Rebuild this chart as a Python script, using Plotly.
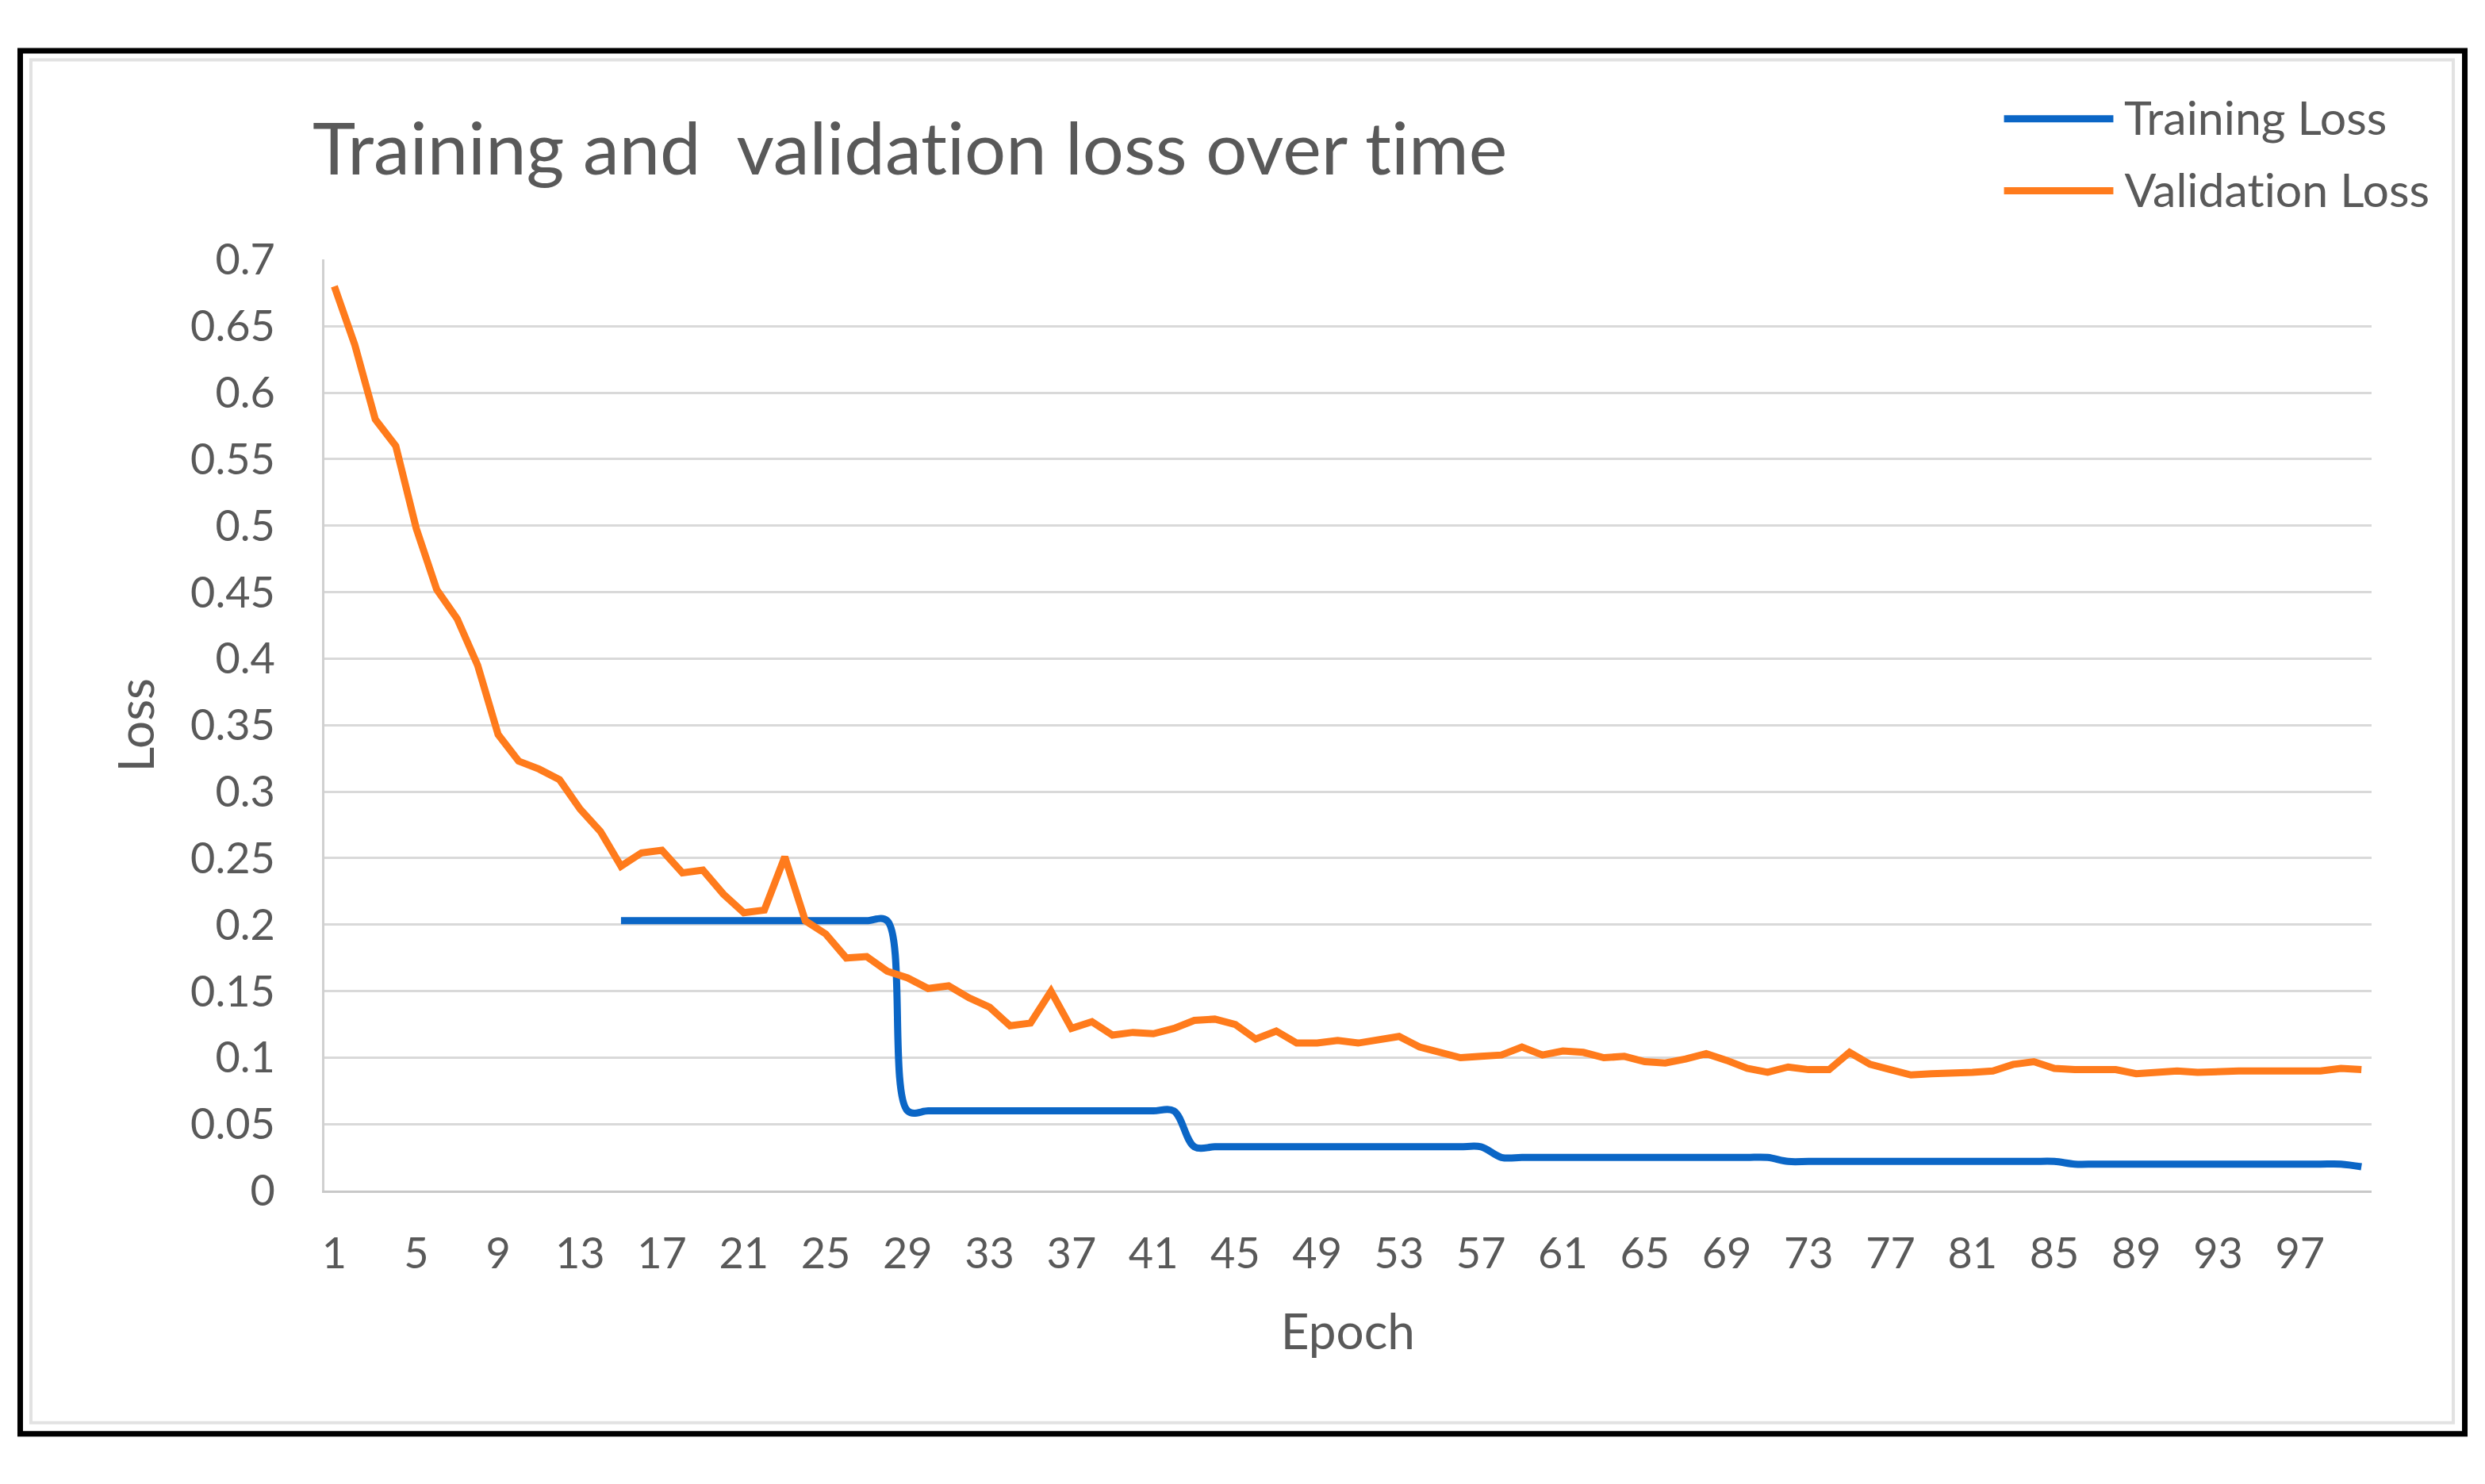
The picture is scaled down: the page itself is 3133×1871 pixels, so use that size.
import plotly.graph_objects as go

# ---------------- data ----------------
epochs = list(range(1, 101))

training_loss = (
    [None] * 14
    + [0.203] * 14          # epochs 15-28
    + [0.060] * 14          # epochs 29-42
    + [0.033] * 15          # epochs 43-57
    + [0.025] * 14          # epochs 58-71
    + [0.022] * 14          # epochs 72-85
    + [0.020] * 14          # epochs 86-99
    + [0.018]               # epoch 100
)

validation_loss = [
    0.680, 0.636, 0.580, 0.560, 0.498, 0.452, 0.430, 0.395, 0.343, 0.323,
    0.317, 0.309, 0.287, 0.270, 0.244, 0.254, 0.256, 0.239, 0.241, 0.223,
    0.209, 0.211, 0.251, 0.203, 0.193, 0.175, 0.176, 0.165, 0.160, 0.152,
    0.154, 0.145, 0.138, 0.124, 0.126, 0.150, 0.122, 0.127, 0.117, 0.119,
    0.118, 0.122, 0.128, 0.129, 0.125, 0.114, 0.120, 0.111, 0.111, 0.113,
    0.111, 0.113, 0.116, 0.108, 0.104, 0.100, 0.101, 0.102, 0.108, 0.102,
    0.105, 0.104, 0.100, 0.101, 0.097, 0.096, 0.099, 0.103, 0.098, 0.092,
    0.089, 0.093, 0.091, 0.091, 0.104, 0.095, 0.091, 0.087, 0.088, 0.088,
    0.089, 0.090, 0.095, 0.097, 0.092, 0.091, 0.091, 0.091, 0.088, 0.089,
    0.090, 0.089, 0.090, 0.090, 0.090, 0.090, 0.090, 0.090, 0.092, 0.091,
]

x_tick_vals = list(range(1, 101, 4))
x_tick_text = [str(v) for v in x_tick_vals]
y_tick_vals = [0, 0.05, 0.1, 0.15, 0.2, 0.25, 0.3, 0.35, 0.4, 0.45, 0.5, 0.55, 0.6, 0.65, 0.7]
y_tick_text = ["0", "0.05", "0.1", "0.15", "0.2", "0.25", "0.3", "0.35", "0.4",
               "0.45", "0.5", "0.55", "0.6", "0.65", "0.7"]

series_names = ["Training Loss", "Validation Loss"]
series_colors = ["#0B66C6", "#FF7B1C"]
title_text = "Training and  validation loss over time"
x_title = "Epoch"
y_title = "Loss"

# ---------------- figure ----------------
W, H = 3133, 1871
FONT = "Lato"
TXT = "#595959"

fig = go.Figure()
fig.add_trace(go.Scatter(
    x=epochs, y=training_loss, mode="lines", name=series_names[0],
    line=dict(color=series_colors[0], width=9, shape="spline", smoothing=1.0),
    connectgaps=False, showlegend=False,
))
fig.add_trace(go.Scatter(
    x=epochs, y=validation_loss, mode="lines", name=series_names[1],
    line=dict(color=series_colors[1], width=9),
    showlegend=False,
))

def px_x(p):
    return p / W

def px_y(p):
    return 1 - p / H

shapes = [
    # outer black frame
    dict(type="rect", xref="paper", yref="paper",
         x0=px_x(22.5), x1=px_x(3107.5), y0=px_y(1837.5), y1=px_y(31),
         line=dict(color="black", width=7), layer="below"),
    # inner light grey border
    dict(type="rect", xref="paper", yref="paper",
         x0=px_x(36), x1=px_x(3093), y0=px_y(1823), y1=px_y(43),
         line=dict(color="#E2E2E2", width=4), layer="below"),
]

# custom legend (long line samples, like the original)
legend_y = [120, 214]
annotations = []
for name, color, ly in zip(series_names, series_colors, legend_y):
    shapes.append(dict(type="line", xref="paper", yref="paper",
                       x0=px_x(2526), x1=px_x(2664), y0=px_y(ly), y1=px_y(ly),
                       line=dict(color=color, width=9)))
    annotations.append(dict(xref="paper", yref="paper", x=px_x(2676), y=px_y(ly - 2),
                            text=name, showarrow=False, xanchor="left", yanchor="middle",
                            font=dict(family=FONT, size=59, color=TXT)))

fig.update_layout(
    width=W, height=H,
    margin=dict(l=0, r=0, t=0, b=0),
    paper_bgcolor="white", plot_bgcolor="white",
    font=dict(family=FONT, color=TXT),
    title=dict(text=title_text, x=px_x(394), xanchor="left",
               y=px_y(188), yanchor="middle",
               font=dict(family=FONT, size=92, color=TXT)),
    shapes=shapes,
    annotations=annotations,
    showlegend=False,
)

fig.update_xaxes(
    domain=[px_x(406), px_x(2990)],
    range=[0.5, 100.5],
    tickmode="array", tickvals=x_tick_vals, ticktext=x_tick_text,
    tickfont=dict(family=FONT, size=54, color=TXT),
    ticks="", ticklabelstandoff=30,
    showgrid=False, zeroline=False,
    showline=True, linecolor="#C8C8C8", linewidth=3,
    title=dict(text=x_title, font=dict(family=FONT, size=62, color=TXT), standoff=48),
)
fig.update_yaxes(
    domain=[px_y(1520), px_y(304)],
    range=[0, 0.7],
    tickmode="array", tickvals=y_tick_vals, ticktext=y_tick_text,
    tickfont=dict(family=FONT, size=54, color=TXT),
    ticks="", ticklabelstandoff=48,
    showgrid=True, gridcolor="#D9D9D9", gridwidth=3,
    zeroline=False,
    showline=True, linecolor="#D0D0D0", linewidth=3,
    title=dict(text=y_title, font=dict(family=FONT, size=62, color=TXT), standoff=26),
)

fig.write_html(
    "out.html",
    config={"displayModeBar": False},
    post_script=(
        "document.body.style.margin='0';document.body.style.overflow='hidden';"
        "var s=document.createElement('style');"
        "s.innerHTML='text{font-variant-ligatures:none !important;font-feature-settings:\"liga\" 0 !important;}';"
        "document.head.appendChild(s);"
    ),
)
